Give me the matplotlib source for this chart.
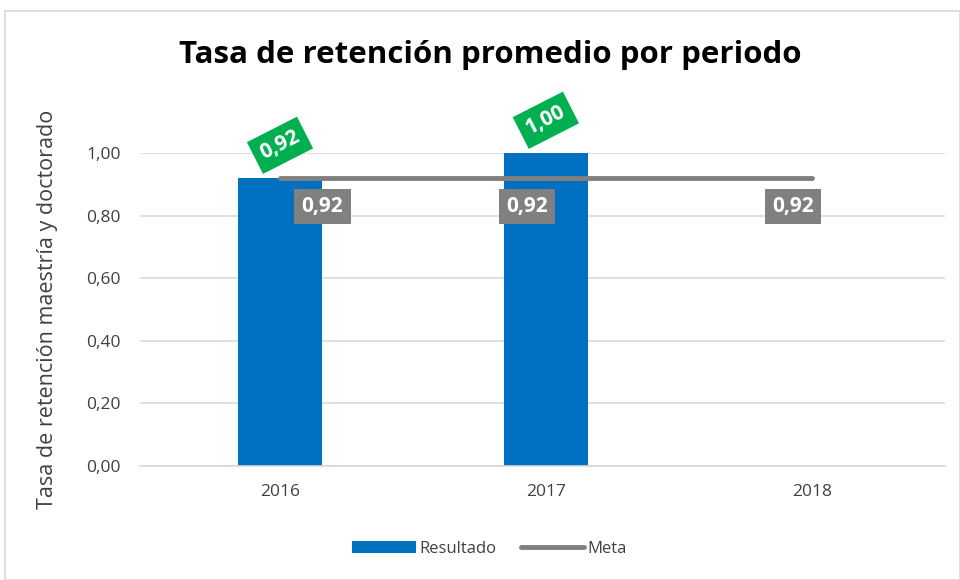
import matplotlib.pyplot as plt
import numpy as np
from matplotlib.patches import Rectangle

years = ["2016", "2017", "2018"]
resultado = [0.92, 1.00, None]
meta = [0.92, 0.92, 0.92]
yticks = [0.0, 0.2, 0.4, 0.6, 0.8, 1.0]

plt.rcParams['font.family'] = ['Open Sans', 'DejaVu Sans']

fig = plt.figure(figsize=(9.6, 5.8), dpi=100)
ax = fig.add_axes([0.146, 0.1966, 0.838, 0.5394])

x = np.arange(len(years))
bar_vals = [v if v is not None else 0 for v in resultado]
bars = ax.bar(x, bar_vals, width=0.314, color="#0070C0", label="Resultado", zorder=2)
line, = ax.plot(x, meta, color="#808080", linewidth=3.5, solid_capstyle="round", label="Meta", zorder=3)

ax.set_xlim(-0.526, 2.5)
ax.set_ylim(0, 1.0)
ax.set_yticks(yticks)
ax.set_yticklabels([f"{t:.2f}".replace(".", ",") for t in yticks], fontsize=12.5, color="#404040")
ax.set_xticks(x)
ax.set_xticklabels(years, fontsize=12.5, color="#404040")
ax.tick_params(axis="y", length=0, pad=14)
ax.tick_params(axis="x", length=0, pad=13)
ax.grid(axis="y", color="#D9D9D9", linewidth=1.2, zorder=0)
for s in ["top", "right", "left"]:
    ax.spines[s].set_visible(False)
ax.spines["bottom"].set_color("#D9D9D9")
ax.spines["bottom"].set_linewidth(1.2)

ax.set_ylabel("Tasa de retención maestría y doctorado", fontsize=15.5, color="#404040", labelpad=20)

# meta labels (grey boxes under the line)
offsets = [0.16, -0.07, -0.07]
for i, v in enumerate(meta):
    ax.text(x[i] + offsets[i], v - 0.09, f"{v:.2f}".replace(".", ","), ha="center", va="center",
            fontsize=15, fontweight="bold", color="white", zorder=4,
            bbox=dict(boxstyle="square,pad=0.35", fc="#808080", ec="none"))

# resultado labels (rotated green boxes above bars)
for i, v in enumerate(resultado):
    if v is None:
        continue
    ax.text(x[i], v + 0.105, f"{v:.2f}".replace(".", ","), ha="center", va="center",
            fontsize=15, fontweight="bold", color="white", rotation=27, zorder=4, clip_on=False,
            bbox=dict(boxstyle="square,pad=0.35", fc="#00B050", ec="none"))

fig.text(0.511, 0.905, "Tasa de retención promedio por periodo", ha="center", va="center",
         fontsize=22.5, fontweight="bold", color="black")

fig.legend([bars, line], ["Resultado", "Meta"], loc="center", bbox_to_anchor=(0.51, 0.054),
           ncol=2, frameon=False, fontsize=12, handlelength=3.8, handletextpad=0.2,
           columnspacing=1.5, labelcolor="#404040")

fig.patches.append(Rectangle((0.005, 0.0), 0.995, 0.981, transform=fig.transFigure,
                             fill=False, ec="#D9D9D9", lw=1.2))

fig.savefig("out.png", dpi=100)
